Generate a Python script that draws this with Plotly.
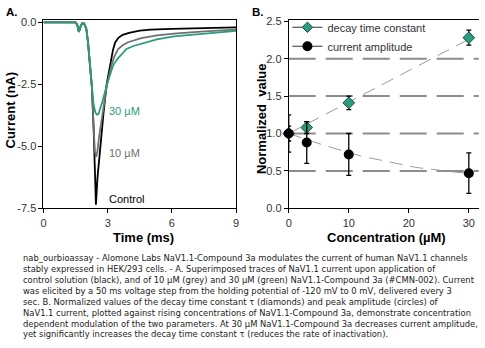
import plotly.graph_objects as go

# ---- Panel A: NaV1.1 current traces (time in ms, current in nA) ----
t_control = [0, 1.5, 1.58, 1.65, 1.72, 1.8, 1.9, 2.0, 2.08, 2.16, 2.26, 2.34, 2.40, 2.45,
             2.52, 2.64, 2.8, 2.95, 3.03, 3.11, 3.25, 3.35, 3.5, 3.7, 4.0, 4.5, 5.0, 6.0, 7.0, 8.0, 9.0]
i_control = [0, 0, -0.1, -0.38, -0.2, -0.04, -0.05, -0.25, -0.8, -1.6, -2.6, -4.2, -5.6, -7.35,
             -6.3, -5.1, -3.7, -2.5, -2.1, -1.72, -1.1, -0.81, -0.62, -0.5, -0.42, -0.33, -0.29, -0.26, -0.24, -0.22, -0.2]

t_10um = [0, 1.5, 1.58, 1.65, 1.72, 1.8, 1.9, 2.0, 2.08, 2.16, 2.26, 2.34, 2.40, 2.46,
          2.52, 2.6, 2.8, 2.97, 3.18, 3.3, 3.49, 3.7, 3.95, 4.57, 5.3, 6.1, 7.5, 9.0]
i_10um = [0, 0, -0.1, -0.38, -0.2, -0.04, -0.05, -0.25, -0.8, -1.6, -2.6, -4.2, -5.2, -5.42,
          -5.2, -4.6, -3.4, -2.5, -1.72, -1.4, -1.07, -0.92, -0.8, -0.63, -0.52, -0.45, -0.36, -0.29]

t_30um = [0, 1.5, 1.58, 1.65, 1.72, 1.8, 1.9, 2.0, 2.08, 2.16, 2.26, 2.34, 2.42, 2.5,
          2.57, 2.65, 2.75, 3.0, 3.26, 3.45, 3.65, 3.88, 4.2, 4.57, 5.3, 6.1, 7.5, 9.0]
i_30um = [0, 0, -0.1, -0.38, -0.2, -0.04, -0.05, -0.25, -0.8, -1.6, -2.6, -3.3, -3.62, -3.72,
          -3.7, -3.5, -3.2, -2.4, -1.72, -1.48, -1.3, -1.07, -0.95, -0.86, -0.68, -0.56, -0.44, -0.34]

# ---- Panel B: normalized parameters vs concentration (µM) ----
conc = [0, 3, 10, 30]
decay_tau = [1.0, 1.08, 1.41, 2.28]
decay_err = [0.1, 0.08, 0.09, 0.1]
amplitude = [1.0, 0.88, 0.72, 0.47]
amplitude_err = [0.25, 0.28, 0.28, 0.27]

decay_fit_x = [0, 30]
decay_fit_y = [1.0, 2.26]
amp_fit_x = [0, 3, 6, 9, 12, 15, 18, 21, 24, 27, 30]
amp_fit_y = [1.0, 0.92, 0.84, 0.77, 0.70, 0.65, 0.60, 0.55, 0.52, 0.49, 0.47]

grid_levels = [0.5, 1.0, 1.5, 2.0]

a_xticks = [0, 3, 6, 9]
a_yticks = [0, -2.5, -5, -7.5]
a_yticktext = ["0.0", "-2.5", "-5.0", "-7.5"]
b_xticks = [0, 10, 20, 30]
b_yticks = [0, 0.5, 1.0, 1.5, 2.0, 2.5]
b_yticktext = ["0.0", "0.5", "1.0", "1.5", "2.0", "2.5"]

caption_lines = [
    "nab_ourbioassay - Alomone Labs NaV1.1-Compound 3a modulates the current of human NaV1.1 channels",
    "stably expressed in HEK/293 cells. - A. Superimposed traces of NaV1.1 current upon application of",
    "control solution (black), and of 10 µM (grey) and 30 µM (green) NaV1.1-Compound 3a (#CMN-002). Current",
    "was elicited by a 50 ms voltage step from the holding potential of -120 mV to 0 mV, delivered every 3",
    "sec. B. Normalized values of the decay time constant τ (diamonds) and peak amplitude (circles) of",
    "NaV1.1 current, plotted against rising concentrations of NaV1.1-Compound 3a, demonstrate concentration",
    "dependent modulation of the two parameters. At 30 µM NaV1.1-Compound 3a decreases current amplitude,",
    "yet significantly increases the decay time constant τ (reduces the rate of inactivation).",
]

W, H = 485, 348
GREEN = "#2b9c7e"
GREY = "#707070"
NARROW = "Liberation Sans Narrow, Arial Narrow, Liberation Sans, Arial"
BOLD = "Liberation Sans, Arial"
CAP_FONT = "DejaVu Sans, Noto Sans, sans-serif"


def px_x(p):
    return p / W


def px_y(p):
    return 1 - p / H


fig = go.Figure()

# Panel A traces
fig.add_trace(go.Scatter(x=t_control, y=i_control, mode="lines", line=dict(color="black", width=1.8),
                         xaxis="x", yaxis="y", showlegend=False))
fig.add_trace(go.Scatter(x=t_10um, y=i_10um, mode="lines", line=dict(color=GREY, width=1.8),
                         xaxis="x", yaxis="y", showlegend=False))
fig.add_trace(go.Scatter(x=t_30um, y=i_30um, mode="lines", line=dict(color=GREEN, width=1.8),
                         xaxis="x", yaxis="y", showlegend=False))

# Panel B fit curves
fig.add_trace(go.Scatter(x=decay_fit_x, y=decay_fit_y, mode="lines",
                         line=dict(color="#9a9a9a", width=1, dash="13px,8px"),
                         xaxis="x2", yaxis="y2", showlegend=False))
fig.add_trace(go.Scatter(x=amp_fit_x, y=amp_fit_y, mode="lines", line_shape="spline",
                         line=dict(color="#9a9a9a", width=1, dash="13px,8px"),
                         xaxis="x2", yaxis="y2", showlegend=False))

# Panel B data points with error bars
fig.add_trace(go.Scatter(x=conc, y=decay_tau, mode="markers", name="decay time constant",
                         marker=dict(symbol="diamond", size=9, color=GREEN, line=dict(color="#1f4f42", width=1)),
                         error_y=dict(type="data", array=decay_err, color="black", thickness=1.3, width=2.5),
                         xaxis="x2", yaxis="y2", cliponaxis=False, showlegend=False))
fig.add_trace(go.Scatter(x=conc, y=amplitude, mode="markers", name="current amplitude",
                         marker=dict(symbol="circle", size=10, color="black"),
                         error_y=dict(type="data", array=amplitude_err, color="black", thickness=1.3, width=2.5),
                         xaxis="x2", yaxis="y2", cliponaxis=False, showlegend=False))

# Legend entries (line + marker)
fig.add_trace(go.Scatter(x=[None], y=[None], mode="lines+markers", name="decay time constant",
                         line=dict(color="#333333", width=1),
                         marker=dict(symbol="diamond", size=8, color=GREEN, line=dict(color="#1f4f42", width=1)),
                         xaxis="x2", yaxis="y2"))
fig.add_trace(go.Scatter(x=[None], y=[None], mode="lines+markers", name="current amplitude",
                         line=dict(color="#333333", width=1),
                         marker=dict(symbol="circle", size=10, color="black"),
                         xaxis="x2", yaxis="y2"))

axis_common = dict(showline=True, linecolor="black", linewidth=1, ticks="outside", ticklen=4,
                   tickcolor="black", tickwidth=1, showgrid=False, zeroline=False,
                   tickfont=dict(family=NARROW, size=11, color="#333333"))

fig.update_layout(
    width=W, height=H, margin=dict(l=0, r=0, t=0, b=0),
    paper_bgcolor="white", plot_bgcolor="white",
    xaxis=dict(domain=[px_x(41), px_x(236)], range=[0, 9], tickvals=a_xticks, mirror=True,
               anchor="y", **axis_common),
    yaxis=dict(domain=[px_y(210), px_y(16)], range=[-7.5, 0.078], tickvals=a_yticks,
               ticktext=a_yticktext, mirror=True, anchor="x", **axis_common),
    xaxis2=dict(domain=[px_x(289.3), px_x(481.7)], range=[0, 31.65], tickvals=b_xticks, mirror=True,
                anchor="y2", **axis_common),
    yaxis2=dict(domain=[px_y(210), px_y(16)], range=[0, 2.51], tickvals=b_yticks,
                ticktext=b_yticktext, anchor="x2", **axis_common),
    legend=dict(x=px_x(288), y=px_y(8), xanchor="left", yanchor="top", bgcolor="rgba(0,0,0,0)",
                font=dict(family=NARROW, size=11, color="#333333"), tracegroupgap=0),
)

# Dashed horizontal reference lines in panel B
for lvl in grid_levels:
    fig.add_shape(type="line", xref="x2 domain", yref="y2", x0=0, x1=1, y0=lvl, y1=lvl,
                  line=dict(color="#8c8c8c", width=2, dash="27px,10px"), layer="below")

# Trace labels in panel A
for label, yv, col in [("30 µM", min(i_30um), GREEN),
                       ("10 µM", min(i_10um), GREY),
                       ("Control", min(i_control), "black")]:
    fig.add_annotation(x=2.95, y=yv, xref="x", yref="y", text=label, showarrow=False,
                       xanchor="left", yanchor="middle", yshift=4 if label != "Control" else 6,
                       font=dict(family=NARROW, size=11, color=col))

# Panel letters and axis titles
fig.add_annotation(x=px_x(2), y=px_y(7), xref="paper", yref="paper", text="<b>A.</b>", showarrow=False,
                   xanchor="left", yanchor="middle", borderpad=0,
                   font=dict(family=BOLD, size=11.5, color="black"))
fig.add_annotation(x=px_x(251), y=px_y(7), xref="paper", yref="paper", text="<b>B.</b>", showarrow=False,
                   xanchor="left", yanchor="middle", borderpad=0,
                   font=dict(family=BOLD, size=11.5, color="black"))
fig.add_annotation(x=px_x(8), y=px_y(108), xref="paper", yref="paper", text="<b>Current (nA)</b>",
                   showarrow=False, textangle=-90, xanchor="center", yanchor="middle",
                   font=dict(family=BOLD, size=13, color="black"))
fig.add_annotation(x=px_x(262), y=px_y(117), xref="paper", yref="paper", text="<b>Normalized  value</b>",
                   showarrow=False, textangle=-90, xanchor="center", yanchor="middle",
                   font=dict(family=BOLD, size=13, color="black"))
fig.add_annotation(x=px_x(142), y=px_y(240), xref="paper", yref="paper", text="<b>Time (ms)</b>",
                   showarrow=False, xanchor="center", yanchor="middle",
                   font=dict(family=BOLD, size=13, color="black"))
fig.add_annotation(x=px_x(388), y=px_y(240), xref="paper", yref="paper", text="<b>Concentration (µM)</b>",
                   showarrow=False, xanchor="center", yanchor="middle",
                   font=dict(family=BOLD, size=13, color="black"))

# Caption, one multi-line text block
fig.add_annotation(x=px_x(18), y=px_y(254), xref="paper", yref="paper", text="<br>".join(caption_lines),
                   showarrow=False, xanchor="left", yanchor="top", align="left",
                   font=dict(family=CAP_FONT, size=8.4, color="#222222"))

fig.write_html("out.html")
